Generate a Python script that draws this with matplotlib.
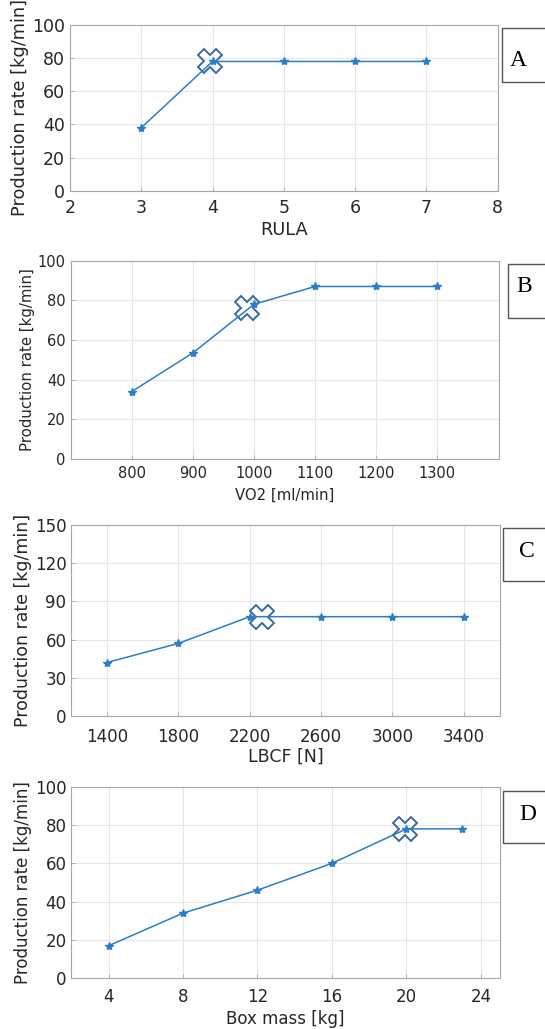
import matplotlib
matplotlib.use("Agg")
import matplotlib.pyplot as plt
from matplotlib.patches import Rectangle

# ---- data ----
rula = [3, 4, 5, 6, 7]
rula_rate = [38, 78, 78, 78, 78]
rula_opt = (3.96, 78)

vo2 = [800, 900, 1000, 1100, 1200, 1300]
vo2_rate = [34, 53.5, 78, 87, 87, 87]
vo2_opt = (988, 76)

lbcf = [1400, 1800, 2200, 2600, 3000, 3400]
lbcf_rate = [42, 57, 78, 78, 78, 78]
lbcf_opt = (2270, 78)

box_mass = [4, 8, 12, 16, 20, 23]
box_rate = [17, 34, 46, 60, 78, 78]
box_opt = (19.9, 78)

panel_letters = ["A", "B", "C", "D"]
ylabel = "Production rate [kg/min]"

W, H = 545, 1029
fig = plt.figure(figsize=(W / 100, H / 100), dpi=100)

LINE = "#2a7dc6"
XEDGE = "#3b6a9e"
TXT = "#262626"


def px_axes(l, t, r, b):
    return fig.add_axes([l / W, 1 - b / H, (r - l) / W, (b - t) / H])


def style(ax, fs_tick, xpad):
    ax.grid(True, color="#e6e6e6", lw=0.8)
    ax.set_axisbelow(True)
    for s in ax.spines.values():
        s.set_color("#a6a6a6")
        s.set_linewidth(0.8)
    ax.tick_params(direction="in", length=3, width=0.6, color="#a6a6a6",
                   labelcolor=TXT, labelsize=fs_tick, top=False, right=False)
    ax.tick_params(axis="x", pad=xpad)


panels = [
    dict(x=rula, y=rula_rate, opt=rula_opt, xlim=(2, 8), xt=[2, 3, 4, 5, 6, 7, 8],
         ylim=(0, 100), yt=[0, 20, 40, 60, 80, 100], xl="RULA",
         rect=(70.0, 25, 497.5, 190.7), fs_t=12.5, fs_l=12.8, xpad=6, lpad=3,
         box=(502, 27.7, 81.7), let=(518, 60)),
    dict(x=vo2, y=vo2_rate, opt=vo2_opt, xlim=(700, 1400), xt=[800, 900, 1000, 1100, 1200, 1300],
         ylim=(0, 100), yt=[0, 20, 40, 60, 80, 100], xl="VO2 [ml/min]",
         rect=(70.6, 260.7, 498.5, 459), fs_t=10.5, fs_l=10.7, xpad=5, lpad=5,
         box=(508, 264, 318.3), let=(524, 287)),
    dict(x=lbcf, y=lbcf_rate, opt=lbcf_opt, xlim=(1200, 3600), xt=[1400, 1800, 2200, 2600, 3000, 3400],
         ylim=(0, 150), yt=[0, 30, 60, 90, 120, 150], xl="LBCF [N]",
         rect=(71.3, 525, 499.5, 716), fs_t=12, fs_l=12.5, xpad=9, lpad=1,
         box=(503, 528.3, 581), let=(527, 551.7)),
    dict(x=box_mass, y=box_rate, opt=box_opt, xlim=(2, 25), xt=[4, 8, 12, 16, 20, 24],
         ylim=(0, 100), yt=[0, 20, 40, 60, 80, 100], xl="Box mass [kg]",
         rect=(71.3, 786.7, 499.5, 978.3), fs_t=12, fs_l=12, xpad=7, lpad=3,
         box=(503, 790.7, 843.3), let=(528, 815)),
]

for p, letter in zip(panels, panel_letters):
    ax = px_axes(*p["rect"])
    ax.plot([p["opt"][0]], [p["opt"][1]], marker="X", ms=17, mfc="none", mec=XEDGE, mew=1.4,
            ls="none", zorder=3)
    ax.plot(p["x"], p["y"], color=LINE, lw=1.1, marker="*", ms=6, mec=LINE, mfc=LINE, zorder=4)
    ax.set_xlim(*p["xlim"])
    ax.set_ylim(*p["ylim"])
    ax.set_xticks(p["xt"])
    ax.set_yticks(p["yt"])
    style(ax, p["fs_t"], p["xpad"])
    ax.set_xlabel(p["xl"], fontsize=p["fs_l"], color=TXT, labelpad=p["lpad"])
    ax.set_ylabel(ylabel, fontsize=p["fs_l"], color=TXT, labelpad=2)
    bl, bt, bb = p["box"]
    fig.patches.append(Rectangle((bl / W, 1 - bb / H), 0.2, (bb - bt) / H,
                                 transform=fig.transFigure, fill=False,
                                 ec="#555555", lw=1.0))
    fig.text(p["let"][0] / W, 1 - p["let"][1] / H, letter, family="Liberation Serif",
             fontsize=17, ha="center", va="center", color="black")

fig.savefig("out.png", dpi=100, facecolor="white")
